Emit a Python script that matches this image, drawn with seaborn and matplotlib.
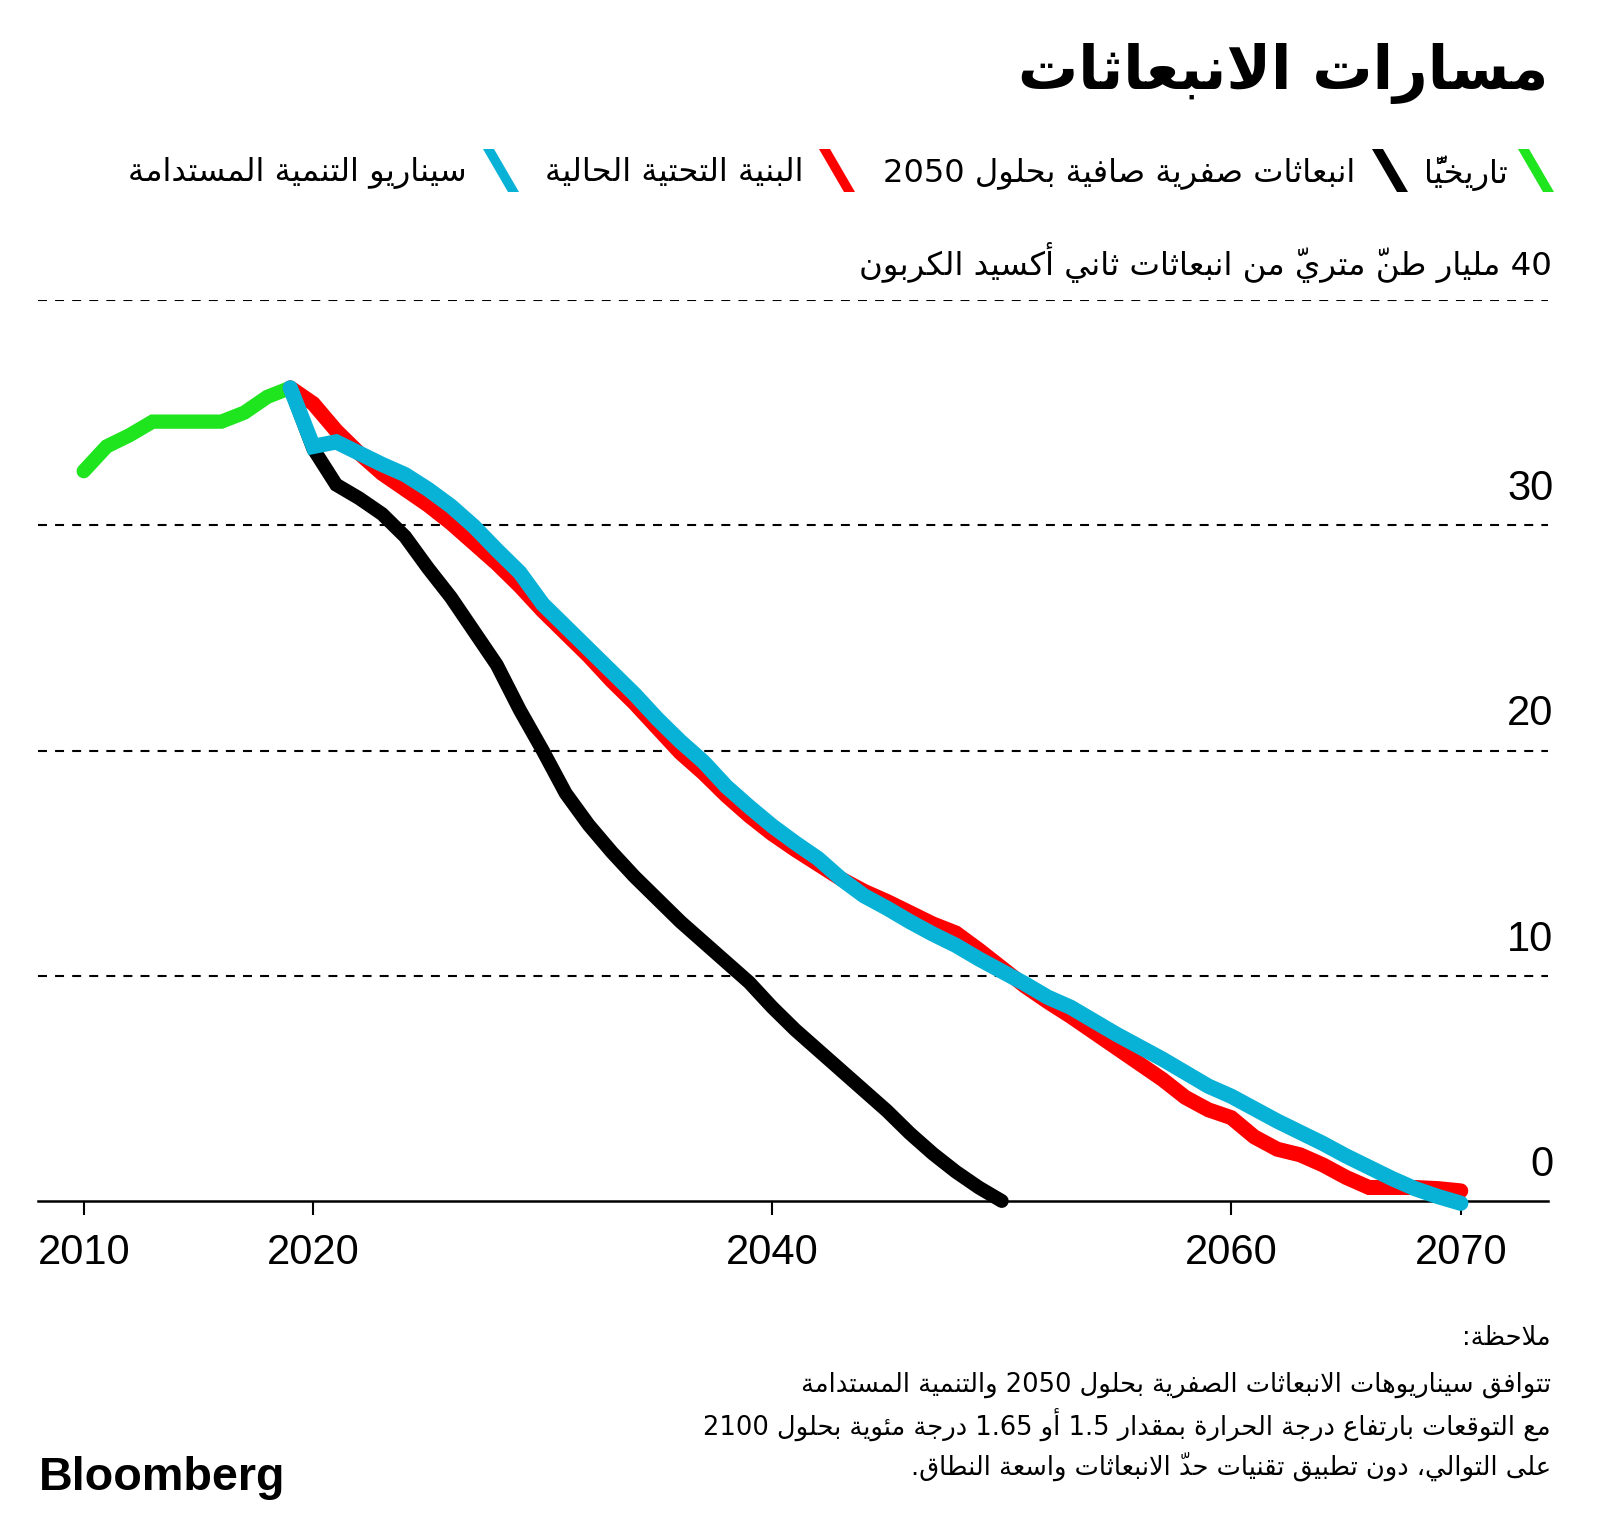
import matplotlib
matplotlib.use("Agg")
import matplotlib.pyplot as plt
from matplotlib.patches import Polygon
import seaborn as sns

# ---------------- data ----------------
hist_years = list(range(2010, 2020))
hist_values = [32.4, 33.5, 34.0, 34.6, 34.6, 34.6, 34.6, 35.0, 35.7, 36.1]

netzero_years = list(range(2019, 2051))
netzero_values = [36.1, 33.4, 31.8, 31.2, 30.5, 29.5, 28.1, 26.8, 25.3, 23.8,
                  21.8, 20.0, 18.1, 16.7, 15.5, 14.4, 13.4, 12.4, 11.5, 10.6,
                  9.7, 8.6, 7.6, 6.7, 5.8, 4.9, 4.0, 3.0, 2.1, 1.3,
                  0.6, 0.0]

scenario_years = list(range(2019, 2071))
current_infra_values = [36.1, 35.4, 34.2, 33.2, 32.3, 31.6, 30.9, 30.1, 29.2, 28.3,
                        27.3, 26.2, 25.2, 24.2, 23.1, 22.1, 21.0, 19.9, 19.0, 18.0,
                        17.1, 16.3, 15.6, 14.95, 14.3, 13.75, 13.3, 12.8, 12.3, 11.9,
                        11.15, 10.35, 9.55, 8.85, 8.2, 7.5, 6.8, 6.1, 5.4, 4.6,
                        4.05, 3.7, 2.85, 2.3, 2.05, 1.6, 1.05, 0.6, 0.6, 0.6,
                        0.55, 0.45]
sustainable_values = [36.1, 33.5, 33.7, 33.2, 32.7, 32.25, 31.6, 30.85, 29.95, 28.9,
                      27.9, 26.5, 25.5, 24.5, 23.5, 22.5, 21.4, 20.4, 19.5, 18.4,
                      17.5, 16.65, 15.9, 15.2, 14.3, 13.55, 13.0, 12.4, 11.85, 11.35,
                      10.75, 10.2, 9.65, 9.05, 8.6, 8.0, 7.4, 6.85, 6.3, 5.7,
                      5.1, 4.65, 4.1, 3.55, 3.05, 2.55, 2.0, 1.5, 1.0, 0.55,
                      0.2, -0.1]

x_ticks = [2010, 2020, 2040, 2060, 2070]
y_ticks = [0, 10, 20, 30]

title = "مسارات الانبعاثات"
y_title = "40 مليار طنّ متريّ من انبعاثات ثاني أكسيد الكربون"
legend_labels = ["تاريخيًّا", "انبعاثات صفرية صافية بحلول 2050",
                 "البنية التحتية الحالية", "سيناريو التنمية المستدامة"]
note_lines = ["ملاحظة:",
              "تتوافق سيناريوهات الانبعاثات الصفرية بحلول 2050 والتنمية المستدامة",
              "مع التوقعات بارتفاع درجة الحرارة بمقدار 1.5 أو 1.65 درجة مئوية بحلول 2100",
              "على التوالي، دون تطبيق تقنيات حدّ الانبعاثات واسعة النطاق."]

GREEN, BLACK, RED, BLUE = "#1fe51f", "#000000", "#ff0000", "#08b2d6"
colors = [GREEN, BLACK, RED, BLUE]

# ---------------- minimal Arabic shaping (matplotlib has no RTL layout) ----------------
_letters = [chr(c) for c in range(0x0621, 0x063B)] + [chr(c) for c in range(0x0641, 0x064B)]
_counts = [1, 2, 2, 2, 2, 4, 2, 4, 2, 4, 4, 4, 4, 4, 2, 2, 2, 2] + [4] * 15 + [2, 2, 4]
FORMS = {}
_code = 0xFE80
for _ch, _n in zip(_letters, _counts):
    FORMS[_ch] = (_code, _n)
    _code += _n
LAM_ALEF = {"\u0622": 0xFEF5, "\u0623": 0xFEF7, "\u0625": 0xFEF9, "\u0627": 0xFEFB}
MARKS = {chr(c) for c in range(0x064B, 0x0653)} | {"\u0670"}


def _links_next(c):
    return isinstance(c, str) and c in FORMS and FORMS[c][1] == 4


def _links_prev(c):
    if isinstance(c, tuple):
        return True
    return isinstance(c, str) and c in FORMS and FORMS[c][1] >= 2


def shape_arabic(text):
    clusters = []
    for ch in text:
        if ch in MARKS and clusters:
            clusters[-1][1] += ch
        else:
            clusters.append([ch, ""])
    merged = []
    i = 0
    while i < len(clusters):
        ch, m = clusters[i]
        if ch == "\u0644" and i + 1 < len(clusters) and clusters[i + 1][0] in LAM_ALEF:
            merged.append([("LA", clusters[i + 1][0]), m + clusters[i + 1][1]])
            i += 2
        else:
            merged.append([ch, m])
            i += 1

    def is_digit(k):
        c = merged[k][0] if 0 <= k < len(merged) else None
        return isinstance(c, str) and c.isascii() and c.isdigit()

    runs = []
    for k, (ch, m) in enumerate(merged):
        prev = merged[k - 1][0] if k > 0 else None
        nxt = merged[k + 1][0] if k + 1 < len(merged) else None
        join_p = _links_prev(ch) and _links_next(prev)
        join_n = _links_next(ch) and _links_prev(nxt)
        if isinstance(ch, tuple):
            g = chr(LAM_ALEF[ch[1]] + int(join_p))
        elif ch in FORMS:
            base, n = FORMS[ch]
            if n == 4:
                idx = 3 if (join_p and join_n) else 1 if join_p else 2 if join_n else 0
            elif n == 2:
                idx = 1 if join_p else 0
            else:
                idx = 0
            g = chr(base + idx)
        else:
            g = ch
        # marks go before their base in visual order so they sit on top of it
        g = m + g
        ltr = isinstance(ch, str) and ((ch.isascii() and ch.isalnum())
                                       or (ch in ".," and is_digit(k - 1) and is_digit(k + 1)))
        if ltr and runs and runs[-1][0]:
            runs[-1][1].append(g)
        else:
            runs.append([ltr, [g]])
    return "".join("".join(r[1]) for r in reversed(runs))


# ---------------- figure ----------------
sns.set_theme(style="white")
plt.rcParams["font.family"] = ["DejaVu Sans"]
plt.rcParams["text.color"] = "black"
plt.rcParams["xtick.color"] = "black"
plt.rcParams["ytick.color"] = "black"
plt.rcParams["axes.labelcolor"] = "black"

W, H = 1600, 1540
fig = plt.figure(figsize=(W / 100, H / 100), dpi=100)
fig.patch.set_facecolor("white")
ax = fig.add_axes([37.8 / W, 1 - 1201 / H, (1548 - 37.8) / W, 901 / H])

line_kw = dict(solid_capstyle="round", solid_joinstyle="miter", zorder=3, clip_on=False)
sns.lineplot(x=hist_years, y=hist_values, ax=ax, color=GREEN, **line_kw)
sns.lineplot(x=netzero_years, y=netzero_values, ax=ax, color=BLACK, **line_kw)
sns.lineplot(x=scenario_years, y=current_infra_values, ax=ax, color=RED, **line_kw)
sns.lineplot(x=scenario_years, y=sustainable_values, ax=ax, color=BLUE, **line_kw)
for line, lw in zip(ax.get_lines(), [10.3, 10.0, 10.8, 11.0]):
    line.set_linewidth(lw)

ax.set_xlim(2008.0, 2073.8)
ax.set_ylim(0, 40)
ax.set_xlabel("")
ax.set_ylabel("")
sns.despine(ax=ax, left=True, top=True, right=True)
ax.spines["bottom"].set_color("black")
ax.spines["bottom"].set_linewidth(1.8)

ax.set_xticks(x_ticks)
ax.set_xticklabels([str(t) for t in x_ticks], family="Liberation Sans", fontsize=30)
ax.tick_params(axis="x", bottom=True, length=10, width=1.5, color="black", pad=13)
ax.set_yticks([10, 20, 30, 40])
ax.tick_params(axis="y", left=False, labelleft=False)
ax.grid(axis="y", color="black", linewidth=1.5, linestyle=(0, (4.3, 3.9)))
ax.grid(axis="x", visible=False)

for v in y_ticks:
    ax.annotate(str(v), xy=(1, v), xycoords=("axes fraction", "data"),
                xytext=(4, 26), textcoords="offset points",
                ha="right", va="center", fontsize=30, family="Liberation Sans")

renderer = fig.canvas.get_renderer()


def fit_width(artist, target_px):
    w = artist.get_window_extent(renderer).width
    artist.set_fontsize(artist.get_fontsize() * target_px / w)
    return artist.get_fontsize()


ylab = ax.annotate(shape_arabic(y_title), xy=(1, 40), xycoords=("axes fraction", "data"),
                   xytext=(3, 27), textcoords="offset points",
                   ha="right", va="center", fontsize=24)
fit_width(ylab, 694)

# title
t = fig.text(1548 / W, 1 - 74 / H, shape_arabic(title), ha="right", va="center",
             fontsize=40, weight="bold")
fit_width(t, 530)

# legend: slanted swatches + labels
swatch_left = [1518, 1372, 819, 483]
text_right = [1508, 1355, 804, 467]
leg_texts = []
for lab, xr in zip(legend_labels, text_right):
    leg_texts.append(fig.text(xr / W, 1 - 173 / H, shape_arabic(lab),
                              ha="right", va="center", fontsize=22))
size = fit_width(leg_texts[1], 471)
for lt in leg_texts:
    lt.set_fontsize(size)
for xl, c in zip(swatch_left, colors):
    pts = [(xl, 149), (xl + 11, 149), (xl + 36, 192), (xl + 25, 192)]
    fig.add_artist(Polygon([(px / W, 1 - py / H) for px, py in pts], closed=True,
                           transform=fig.transFigure, facecolor=c, edgecolor="none"))

# note
note_y = [1338, 1385, 1425, 1466]
note_texts = [fig.text(1551 / W, 1 - y / H, shape_arabic(s), ha="right", va="center", fontsize=20)
              for s, y in zip(note_lines, note_y)]
size = fit_width(note_texts[2], 847)
for nt in note_texts:
    nt.set_fontsize(size)

b = fig.text(39 / W, 1 - 1478 / H, "Bloomberg", ha="left", va="center",
             fontsize=34, weight="bold", family="Liberation Sans", color="black")
fit_width(b, 247)

fig.savefig("out.png", dpi=100, facecolor="white")
